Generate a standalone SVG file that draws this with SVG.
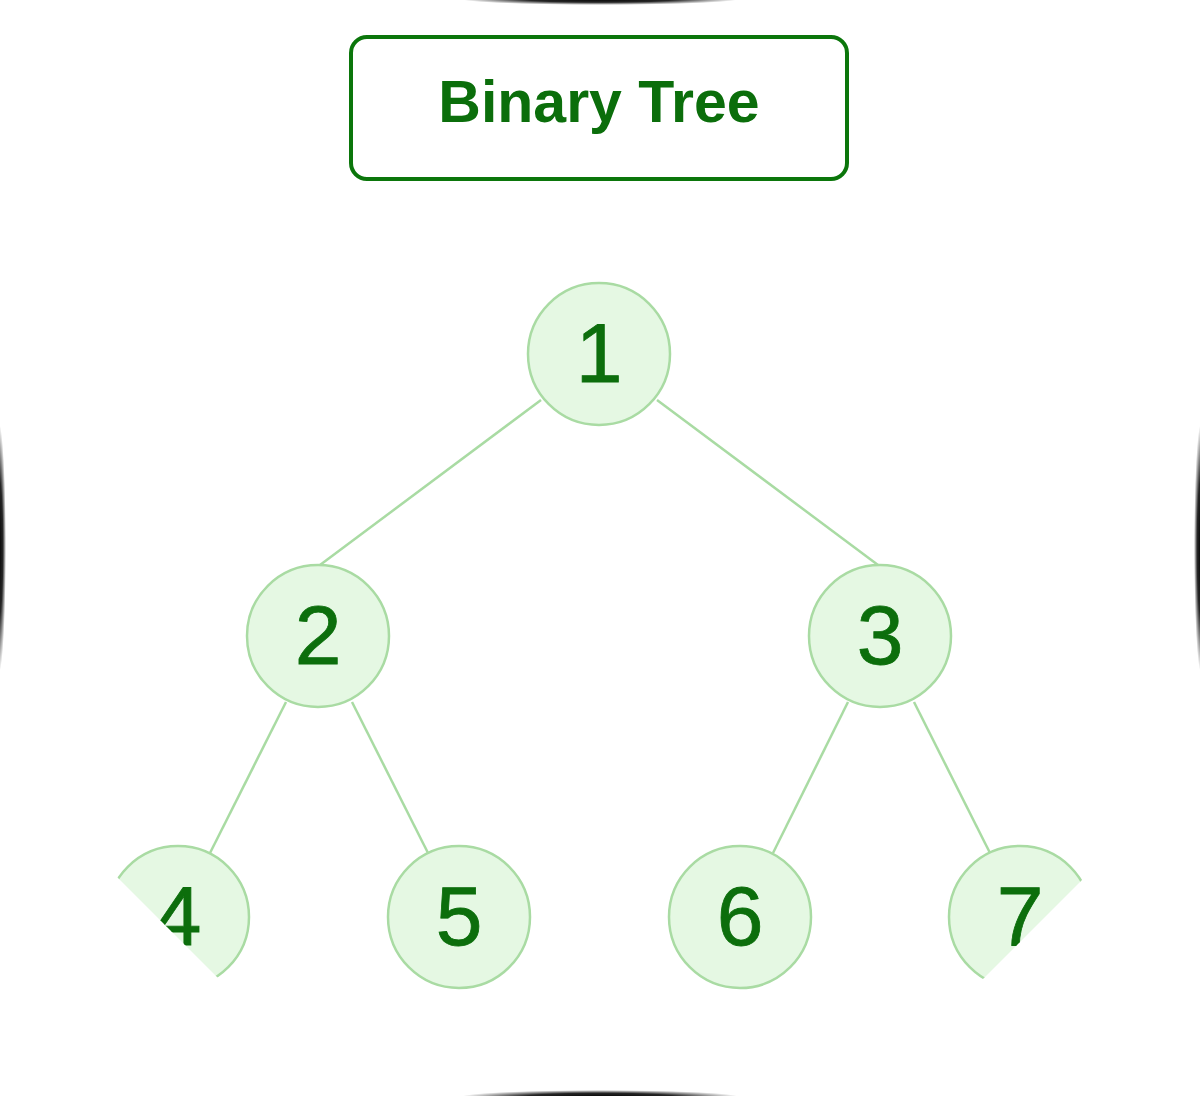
<svg xmlns="http://www.w3.org/2000/svg" width="1200" height="1096" viewBox="0 0 1200 1096">
<style>
.node circle{fill:#e5f8e3;stroke:#a9dba3;stroke-width:2.5}
.node text{font-family:"Liberation Sans",Arial,sans-serif;font-size:84px;fill:#0c6e0c;stroke:#0c6e0c;stroke-width:0.8;text-anchor:middle}
#edges line{stroke:#a9dba3;stroke-width:2.5}
.title rect{fill:#fff;stroke:#0b760b;stroke-width:4}
.title text{font-family:"Liberation Sans",Arial,sans-serif;font-size:59px;font-weight:bold;fill:#0b6e0b;text-anchor:middle}
</style>
<defs>
<clipPath id="cut"><polygon points="0,0 1200,0 1200,762 866,1096 336,1096 0,760"/></clipPath>
<radialGradient id="shade"><stop offset="0" stop-color="#000"/><stop offset="0.55" stop-color="#000" stop-opacity="0.85"/><stop offset="1" stop-color="#000" stop-opacity="0"/></radialGradient>
</defs>
<rect width="1200" height="1096" fill="#fff"/>
<g clip-path="url(#cut)">
<g class="title" id="title">
<rect x="351" y="37" width="496" height="142" rx="16"/>
<text x="599" y="122">Binary Tree</text>
</g>
<g id="edges">
<line x1="541" y1="400" x2="320" y2="565"/>
<line x1="657" y1="400" x2="878" y2="565"/>
<line x1="286" y1="702" x2="210" y2="853"/>
<line x1="352" y1="702" x2="428" y2="853"/>
<line x1="848" y1="702" x2="773" y2="853"/>
<line x1="914" y1="702" x2="990" y2="853"/>
</g>
<g class="node" id="n1"><circle cx="599" cy="354" r="71"/><text x="599" y="382">1</text></g>
<g class="node" id="n2"><circle cx="318" cy="636" r="71"/><text x="318" y="664">2</text></g>
<g class="node" id="n3"><circle cx="880" cy="636" r="71"/><text x="880" y="664">3</text></g>
<g class="node" id="n4"><circle cx="178" cy="917" r="71"/><text x="178" y="945">4</text></g>
<g class="node" id="n5"><circle cx="459" cy="917" r="71"/><text x="459" y="945">5</text></g>
<g class="node" id="n6"><circle cx="740" cy="917" r="71"/><text x="740" y="945">6</text></g>
<g class="node" id="n7"><circle cx="1020" cy="917" r="71"/><text x="1020" y="945">7</text></g>
</g>
<g id="edge-shadows">
<ellipse cx="-1" cy="548" rx="7" ry="125" fill="url(#shade)"/>
<ellipse cx="1201" cy="548" rx="7" ry="125" fill="url(#shade)"/>
<ellipse cx="600" cy="-1" rx="140" ry="6" fill="url(#shade)"/>
<ellipse cx="600" cy="1097" rx="140" ry="7" fill="url(#shade)"/>
</g>
</svg>
